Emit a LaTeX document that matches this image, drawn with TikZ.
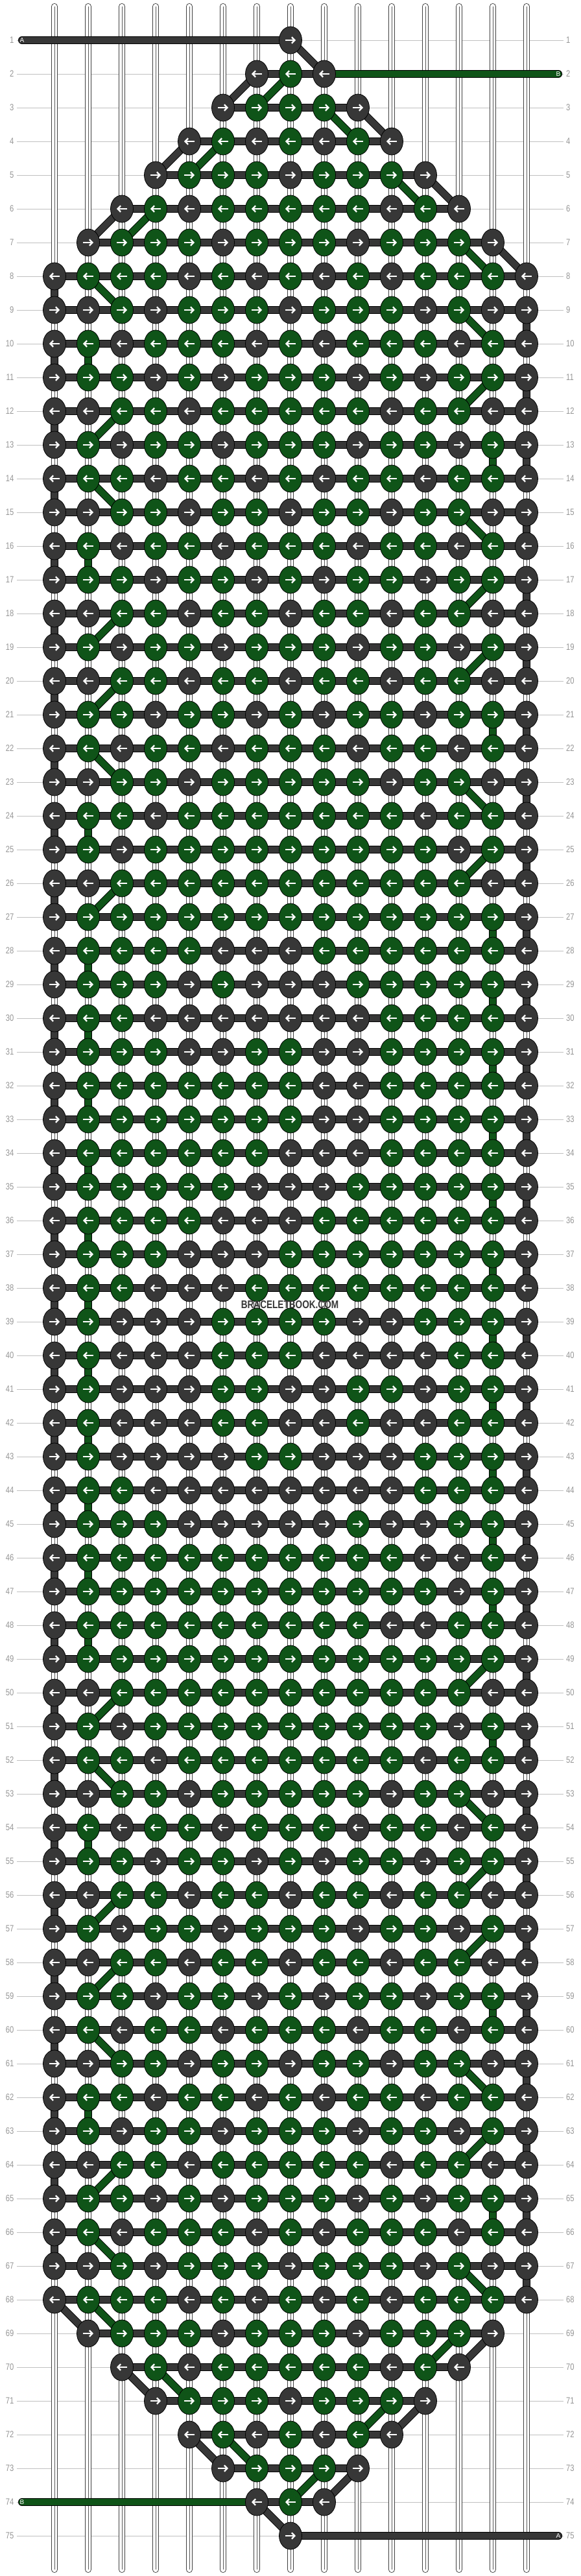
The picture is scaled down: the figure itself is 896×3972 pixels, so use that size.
\documentclass[tikz,border=0pt]{standalone}
\usepackage{fontspec}
\setmainfont{Liberation Sans}
\usepackage{graphicx}
\usepackage{xcolor}
\usepackage{tikz}
\usetikzlibrary{shapes.geometric,arrows.meta}

\definecolor{knotdark}{RGB}{55,55,55}
\definecolor{knotgreen}{RGB}{15,84,24}
\definecolor{gridgray}{RGB}{192,192,192}
\definecolor{labelgray}{RGB}{150,150,150}

\pgfdeclarelayer{grid}
\pgfdeclarelayer{strings}
\pgfdeclarelayer{links}
\pgfsetlayers{grid,strings,links,main}

\tikzset{
  knot/.style={ellipse, draw=black, line width=0.8pt, minimum width=35pt, minimum height=42pt, inner sep=0pt},
  knotarrow/.style={white, line width=2.3pt, -{Straight Barb[length=4.5pt,width=9.5pt]}},
  darkbar/.style={line width=0.9pt, black, double=knotdark, double distance=10.2pt},
  greenbar/.style={line width=0.9pt, black, double=knotgreen, double distance=10.2pt},
  basestring/.style={line width=0.9pt, black!75, double=white, double distance=8.2pt, line cap=round},
  rowlabel/.style={text=labelgray, font=\fontsize{14}{14}\selectfont, inner sep=0pt},
  endlabel/.style={text=white, font=\fontsize{10}{10}\selectfont, inner sep=0pt},
  gridline/.style={gridgray, line width=0.9pt}
}

\newcommand\knotrow[2]{\def\knotr{#1}\def\knotc{0}\expandafter\knotscan#2\relax}
\def\knotscan#1{\ifx#1\relax\else\knotput#1\pgfmathtruncatemacro\knotc{\knotc+1}\expandafter\knotscan\fi}
\newcommand\knotput[1]{\if#1D\knotdraw{knotdark}\fi\if#1G\knotdraw{knotgreen}\fi}
\newcommand\knotdraw[1]{%
  \node[knot, fill=#1] (k\knotr-\knotc) at ({84+52*\knotc},{10+52*\knotr}) {};
  \ifodd\knotr\relax
    \draw[knotarrow] ([xshift=-8pt]k\knotr-\knotc.center) -- ([xshift=8pt]k\knotr-\knotc.center);
  \else
    \draw[knotarrow] ([xshift=8pt]k\knotr-\knotc.center) -- ([xshift=-8pt]k\knotr-\knotc.center);
  \fi}

\begin{document}
\begin{tikzpicture}[x=1pt,y=-1pt]

\useasboundingbox (0,0) rectangle (896,3972);

\begin{pgfonlayer}{grid}
\fill[white] (0,0) rectangle (896,3972);
\foreach \r in {1,...,75}{
	\draw[gridline] (26,{10+52*\r}) -- (869,{10+52*\r});
	\node[rowlabel, anchor=east] (ll\r) at (21.5,{10+52*\r}) {\scalebox{0.8}[1]{\r}};
	\node[rowlabel, anchor=west] (lr\r) at (873,{10+52*\r}) {\scalebox{0.8}[1]{\r}};
}
\end{pgfonlayer}

\begin{pgfonlayer}{strings}
\foreach \c in {0,...,14}{
	\draw[basestring] ({84+52*\c},10) -- ({84+52*\c},3962);
	\draw[black!65, line width=0.5pt] ({84+52*\c},10) -- ({84+52*\c},3962);
}
\end{pgfonlayer}

\foreach \pat [count=\r] in {
-------D-------,------DGD------,-----DGGGD-----,----DGDGDGD----,---DGGGDGGGD---,
--DGDGGGGGDGD--,-DGGGDGGGDGGGD-,DGGGDGDGDGDGGGD,DDGDGGGDGGGDGDD,DGDGGGDGDGGGDGD,
DGGDGDGGGDGDGGD,DDGGDGGGGGDGGDD,DGDGGDGGGDGGDGD,DGGDGGDGDGGDGGD,DDGGDGGDGGDGGDD,
DGDGGDGGGDGGDGD,DGGDGGDGDGGDGGD,DDGGDGGDGGDGGDD,DGDGGDGGGDGGDGD,DDGGDGGDGGDGGDD,
DGGDGGDGDGGDGGD,DGDGGDGGGDGGDGD,DDGGDGGGGGDGGDD,DGGDGGGGGGGDGGD,DGDGGGGGGGGGDGD,
DDGGGGGGGGGGGDD,DGGGGGGGGGGGGGD,DGGGGDDDGGGGGGD,DGGGDGDDDGGGGGD,DGGDDDDDDDGGGGD,
DGGGDDGGDDGGGGD,DGGGGGGGDDGGGGD,DGGGGGGGDDGGGGD,DGGGGGGDDDGGGGD,DGGGGGDDDGGGGGD,
DGGGGDDDGGGGGGD,DGGGDDDGGGGGGGD,DGGDDDGGGGGGGGD,DGDDDGGGGDDGGGD,DGDDDGGGDDDDGGD,
DGDDDGGDDGGDGGD,DGDDDGGDDGDDGGD,DGDDDDGGDDDGGGD,DGGDDDDDDDDGGGD,DGGGDDDDDGDDGGD,
DGGGGGGGGGGDDGD,DGGGGGGGGGGGDGD,DGGGGGGGGGDDGGD,DGGGGGGGGGGGGGD,DDGGGGGGGGGGGDD,
DGDGGGGGGGGGDGD,DGGDGGGGGGGDGGD,DDGGDGGGGGDGGDD,DGDGGDGGGDGGDGD,DGGDGGDGDGGDGGD,
DDGGDGGDGGDGGDD,DGDGGDGGGDGGDGD,DDGGDGGDGGDGGDD,DGGDGGDGDGGDGGD,DGDGGDGGGDGGDGD,
DDGGDGGDGGDGGDD,DGGDGGDGDGGDGGD,DGDGGDGGGDGGDGD,DDGGDGGGGGDGGDD,DGGDGDGGGDGDGGD,
DGDGGGDGDGGGDGD,DDGDGGGDGGGDGDD,DGGGDGDGDGDGGGD,-DGGGDGGGDGGGD-,--DGDGGGGGDGD--,
---DGGGDGGGD---,----DGDGDGD----,-----DGGGD-----,------DGD------,-------D-------}{
	\knotrow{\r}{\pat}
}

\begin{pgfonlayer}{links}
\foreach \r in {2,...,74}{
	\pgfmathtruncatemacro\lo{max(0,8-\r,\r-68)}
	\pgfmathtruncatemacro\hi{14-\lo}
	\draw[darkbar] (k\r-\lo.center) -- (k\r-\hi.center);
}
\foreach \r in {8,10,...,66}{
	\pgfmathtruncatemacro\s{\r+1}
	\draw[darkbar] (k\r-0.center) -- (k\s-0.center);
}
\foreach \r in {9,11,...,67}{
	\pgfmathtruncatemacro\s{\r+1}
	\draw[darkbar] (k\r-14.center) -- (k\s-14.center);
}
\foreach \r/\a/\b in {1/7/8,2/6/5,3/9/10,4/4/3,5/11/12,6/2/1,7/13/14,
		68/0/1,69/13/12,70/2/3,71/11/10,72/4/5,73/9/8,74/6/7}{
	\pgfmathtruncatemacro\s{\r+1}
	\draw[darkbar] (k\r-\a.center) -- (k\s-\b.center);
}
\foreach \r/\a/\b in {2/7/6,3/8/9,4/5/4,5/10/11,6/3/2,7/12/13,
		8/1/2,10/1/1,12/2/1,14/1/2,16/1/1,18/2/1,20/2/1,22/1/2,24/1/1,26/2/1,
		28/1/1,30/1/1,32/1/1,34/1/1,36/1/1,38/1/1,40/1/1,42/1/1,44/1/1,46/1/1,48/1/1,
		50/2/1,52/1/2,54/1/1,56/2/1,58/2/1,60/1/2,62/1/1,64/2/1,66/1/2,
		9/12/13,11/13/12,13/13/13,15/12/13,17/13/12,19/13/12,21/13/13,23/12/13,25/13/12,
		27/13/13,29/13/13,31/13/13,33/13/13,35/13/13,37/13/13,39/13/13,41/13/13,43/13/13,
		45/13/13,47/13/13,49/13/12,51/13/13,53/12/13,55/13/12,57/13/12,59/13/13,61/12/13,
		63/13/12,65/13/13,67/12/13,
		68/1/2,69/12/11,70/3/4,71/10/9,72/5/6,73/8/7}{
	\pgfmathtruncatemacro\s{\r+1}
	\draw[greenbar] (k\r-\a.center) -- (k\s-\b.center);
}

\coordinate (Aleft) at (34,62);
\coordinate (Bright) at (861,114);
\coordinate (Bleft) at (34,3858);
\coordinate (Aright) at (861,3910);
\draw[darkbar, line cap=round] (Aleft) -- (k1-7.center);
\draw[greenbar, line cap=round] (k2-8.center) -- (Bright);
\draw[greenbar, line cap=round] (Bleft) -- (k74-6.center);
\draw[darkbar, line cap=round] (k75-7.center) -- (Aright);
\end{pgfonlayer}

\node[endlabel] (labA1) at (Aleft) {A};
\node[endlabel] (labB1) at (Bright) {B};
\node[endlabel] (labB2) at (Bleft) {B};
\node[endlabel] (labA2) at (Aright) {A};

\node[text=knotdark, font=\bfseries\fontsize{17}{17}\selectfont, inner sep=0pt] (mark) at (447,2012) {\scalebox{0.8}[1]{BRACELETBOOK.COM}};

\end{tikzpicture}
\end{document}
